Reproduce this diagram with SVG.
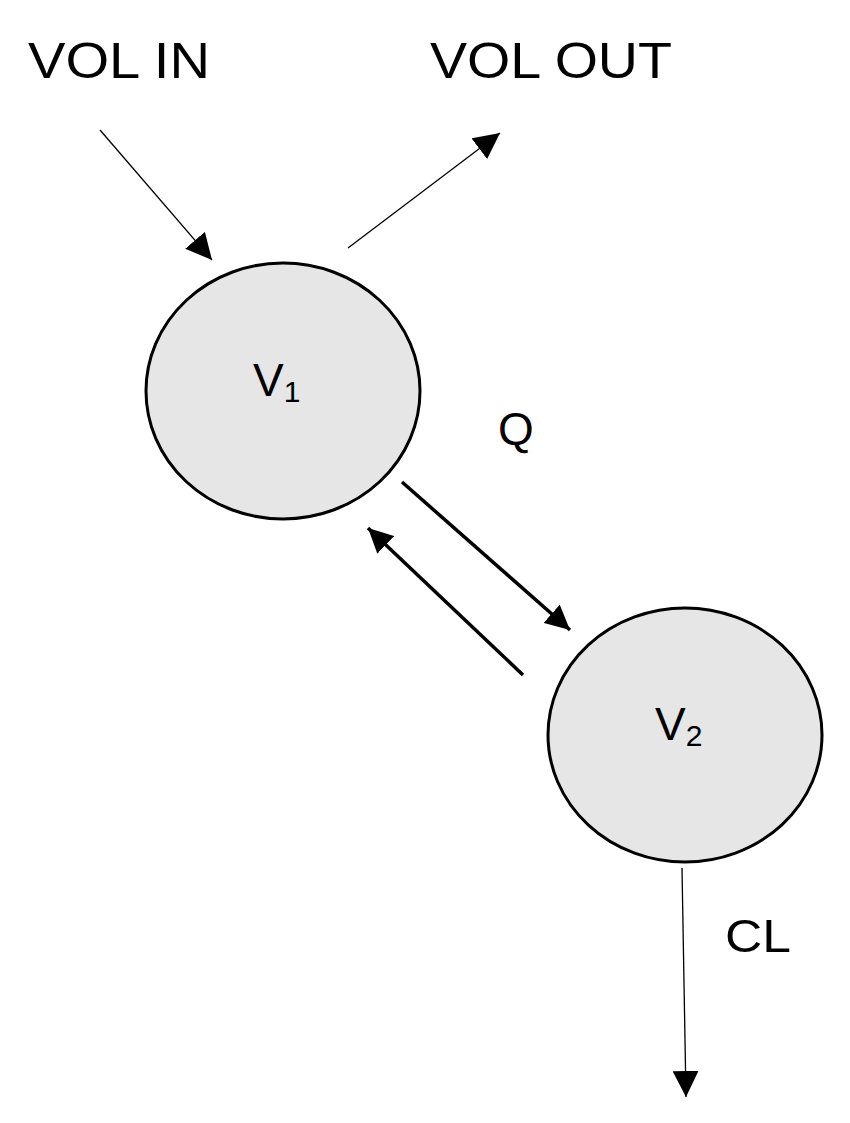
<svg xmlns="http://www.w3.org/2000/svg" width="850" height="1123" viewBox="0 0 850 1123">
<style>
.n{fill:#e6e6e6;stroke:#000;stroke-width:3}
.t{font-family:"Liberation Sans",Arial,sans-serif;fill:#000}
.thin{stroke:#000;stroke-width:1.3;fill:none}
.thick{stroke:#000;stroke-width:3.5;fill:none}
</style>
<defs>
<marker id="ah" viewBox="0 0 10 10" refX="10" refY="5" markerWidth="26" markerHeight="26" markerUnits="userSpaceOnUse" orient="auto">
<path d="M0,0 L10,5 L0,10 z" fill="#000"/></marker>
<marker id="at" viewBox="0 0 10 10" refX="10" refY="5" markerWidth="7" markerHeight="7" orient="auto">
<path d="M0,0 L10,5 L0,10 z" fill="#000"/></marker>
</defs>
<rect width="850" height="1123" fill="#fff"/>
<g id="connectors">
<line class="thin" x1="100" y1="130" x2="212" y2="260" marker-end="url(#ah)"/>
<line class="thin" x1="348" y1="248" x2="500" y2="133" marker-end="url(#ah)"/>
<line class="thick" x1="402" y1="482" x2="570" y2="630" marker-end="url(#at)"/>
<line class="thick" x1="523" y1="675" x2="368" y2="528" marker-end="url(#at)"/>
<line class="thin" x1="682" y1="868" x2="686" y2="1097" marker-end="url(#ah)"/>
</g>
<g id="V1"><ellipse class="n" cx="283" cy="391" rx="137" ry="128"/>
<text class="t" x="253" y="396" font-size="46">V<tspan font-size="30" dy="6">1</tspan></text></g>
<g id="V2"><ellipse class="n" cx="685" cy="735" rx="137" ry="127"/>
<text class="t" x="655" y="740" font-size="46">V<tspan font-size="30" dy="6">2</tspan></text></g>
<g id="labels">
<text class="t" x="28" y="78" font-size="50" textLength="182" lengthAdjust="spacingAndGlyphs">VOL IN</text>
<text class="t" x="430" y="78" font-size="50" textLength="242" lengthAdjust="spacingAndGlyphs">VOL OUT</text>
<text class="t" x="498" y="445" font-size="46">Q</text>
<text class="t" x="725" y="952" font-size="46" textLength="66" lengthAdjust="spacingAndGlyphs">CL</text>
</g>
</svg>
